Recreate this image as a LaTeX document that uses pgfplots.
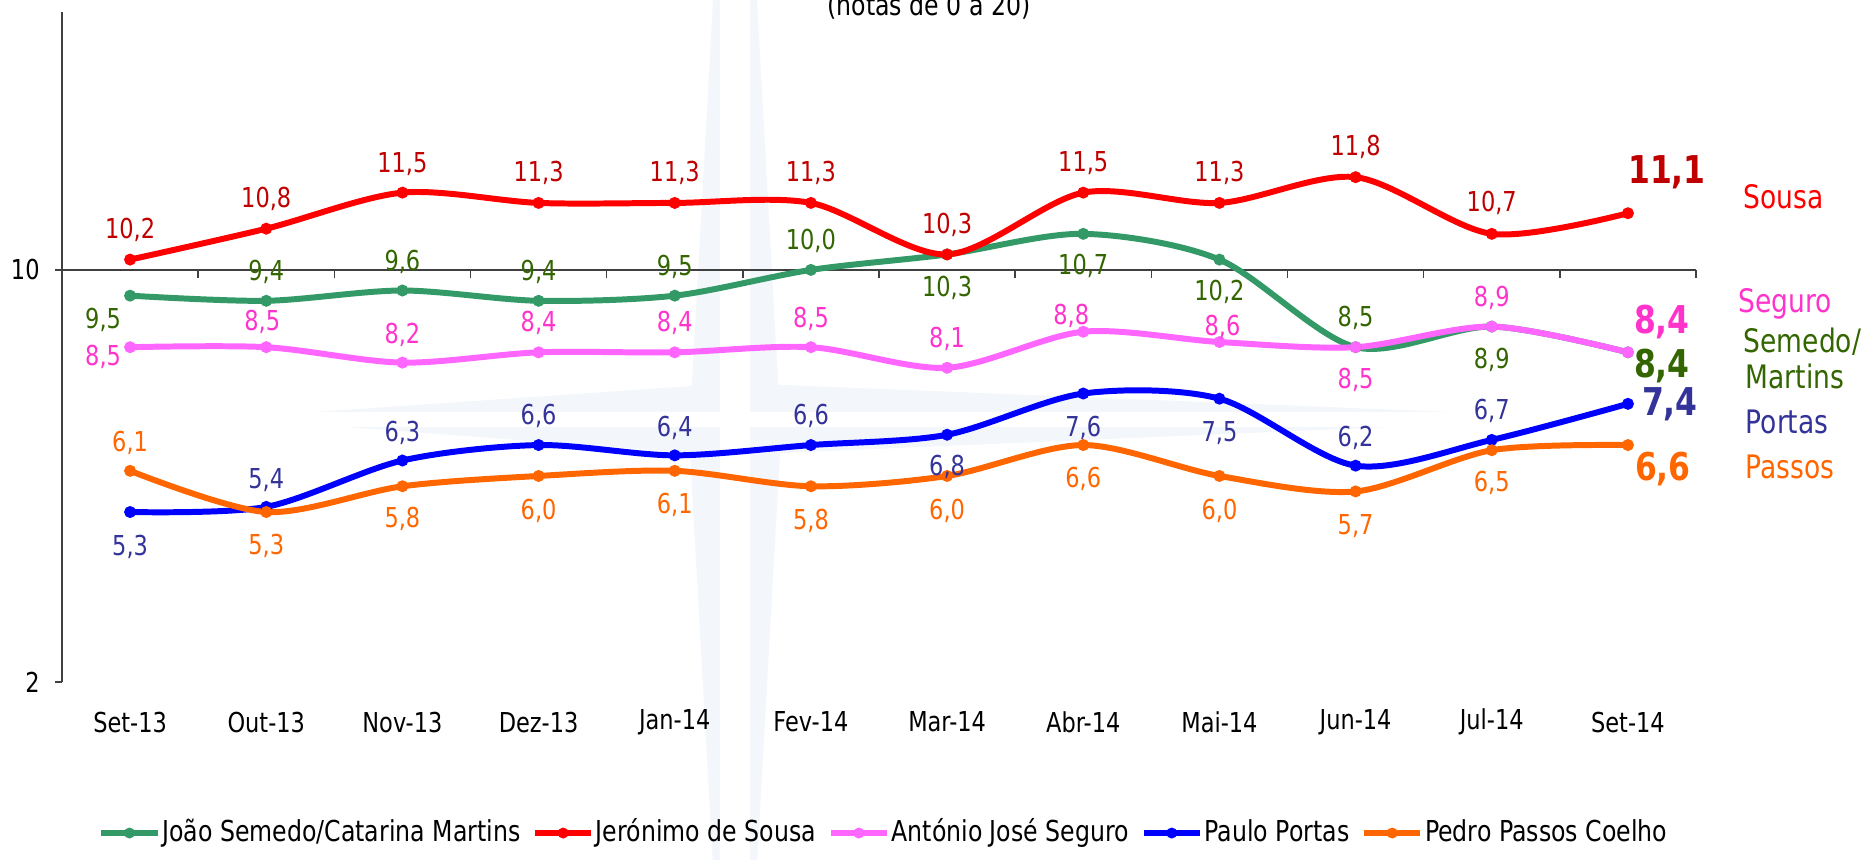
\documentclass[border=0pt]{standalone}
\usepackage{pgfplots}
\pgfplotsset{compat=1.18}
\usepackage{pgfplotstable}
\usepackage{fontspec}
\setmainfont{DejaVu Sans}[FakeStretch=0.82]

\definecolor{gline}{HTML}{339966}
\definecolor{gtext}{HTML}{336600}
\definecolor{rline}{HTML}{FF0000}
\definecolor{rtext}{HTML}{C00000}
\definecolor{pline}{HTML}{FF66FF}
\definecolor{ptext}{HTML}{FF33CC}
\definecolor{bline}{HTML}{0000FF}
\definecolor{bmark}{HTML}{3366FF}
\definecolor{btext}{HTML}{333399}
\definecolor{oline}{HTML}{FF6600}
\definecolor{omark}{HTML}{FF9900}
\definecolor{otext}{HTML}{FF6600}
\definecolor{wm}{HTML}{F3F6FB}
\definecolor{axcol}{HTML}{404040}

\newcommand{\labfont}{\fontsize{7.8}{9}\selectfont}
\newcommand{\bigfont}{\fontsize{10.9}{12}\selectfont\bfseries}

% x y dx dy lab   (dx,dy in px of the 1874-wide picture, dy up)
\pgfplotstableread{
x y dx dy lab
0 9.5 -27 -24 9,5
1 9.4 0 29 9,4
2 9.6 0 29 9,6
3 9.4 0 29 9,4
4 9.5 0 29 9,5
5 10.0 0 29 10,0
6 10.3 0 -33 10,3
7 10.7 0 -32 10,7
8 10.2 0 -32 10,2
9 8.5 0 29 8,5
10 8.9 0 -33 8,9
11 8.4 34 -14 8,4
}\tabG
\pgfplotstableread{
x y dx dy lab
0 10.2 0 30 10,2
1 10.8 0 30 10,8
2 11.5 0 29 11,5
3 11.3 0 30 11,3
4 11.3 0 30 11,3
5 11.3 0 30 11,3
6 10.3 0 30 10,3
7 11.5 0 30 11,5
8 11.3 0 30 11,3
9 11.8 0 30 11,8
10 10.7 0 31 10,7
11 11.1 39 41 11,1
}\tabR
\pgfplotstableread{
x y dx dy lab
0 8.5 -27 -10 8,5
1 8.5 -4 25 8,5
2 8.2 0 28 8,2
3 8.4 0 29 8,4
4 8.4 0 29 8,4
5 8.5 0 28 8,5
6 8.1 0 29 8,1
7 8.8 -12 16 8,8
8 8.6 3 15 8,6
9 8.5 0 -33 8,5
10 8.9 0 29 8,9
11 8.4 34 30 8,4
}\tabP
\pgfplotstableread{
x y dx dy lab
0 5.3 0 -35 5,3
1 5.4 0 27 5,4
2 6.3 0 28 6,3
3 6.6 0 29 6,6
4 6.4 0 27 6,4
5 6.6 0 29 6,6
6 6.8 0 -32 6,8
7 7.6 0 -34 7,6
8 7.5 0 -34 7,5
9 6.2 0 28 6,2
10 6.7 0 29 6,7
11 7.4 42 0 7,4
}\tabB
\pgfplotstableread{
x y dx dy lab
0 6.1 0 28 6,1
1 5.3 0 -34 5,3
2 5.8 0 -33 5,8
3 6.0 0 -35 6,0
4 6.1 0 -34 6,1
5 5.8 0 -35 5,8
6 6.0 0 -35 6,0
7 6.6 0 -34 6,6
8 6.0 0 -35 6,0
9 5.7 0 -35 5,7
10 6.5 0 -33 6,5
11 6.6 35 -24 6,6
}\tabO

\pgfplotsset{
  ser/.style 2 args={color=#1, line width=1.7pt, smooth, mark=*, mark size=0.8pt,
    mark options={draw=none, fill=#2}},
  lab/.style 2 args={draw=none, mark=none, forget plot, nodes near coords,
    point meta=explicit symbolic,
    visualization depends on={\thisrow{dx}\as\mydx},
    visualization depends on={\thisrow{dy}\as\mydy},
    every node near coord/.append style={anchor=center, inner sep=0pt,
      xshift=\mydx*0.01cm, yshift=\mydy*0.01cm, text=#1, font=#2}},
}

\begin{document}
\begin{tikzpicture}
\path[use as bounding box] (0,0) rectangle (18.74cm,-8.59cm);
% faint compass watermark
\fill[wm] (7.35cm,4.0cm) -- (7.80cm,-4.18cm) -- (16.01cm,-4.18cm) -- (7.80cm,-4.53cm)
  -- (7.35cm,-12.6cm) -- (6.90cm,-4.53cm) -- (2.27cm,-4.18cm) -- (6.90cm,-4.18cm) -- cycle;
\fill[wm] (7.35cm,-3.83cm) -- (16.01cm,-4.18cm) -- (7.35cm,-4.53cm) -- (2.27cm,-4.18cm) -- cycle;
\fill[white] (7.20cm,0.5cm) rectangle (7.50cm,-9cm);
\fill[white] (2cm,-4.12cm) rectangle (16.2cm,-4.27cm);

\begin{axis}[
  at={(0.62cm,-6.82cm)}, anchor=south west,
  scale only axis, width=16.34cm, height=6.697cm,
  xmin=-0.5, xmax=11.5, ymin=2, ymax=15,
  clip=false,
  axis y line*=left, axis x line*=bottom,
  x axis line style={draw=none},
  y axis line style={axcol, line width=0.45pt},
  xtick={0,...,11},
  xticklabels={Set-13,Out-13,Nov-13,Dez-13,Jan-14,Fev-14,Mar-14,Abr-14,Mai-14,Jun-14,Jul-14,Set-14},
  x tick style={draw=none},
  ytick={2,10},
  y tick style={axcol, line width=0.45pt},
  tick align=outside, major tick length=0.07cm,
  tick label style={font=\labfont, text=black},
  /pgf/number format/assume math mode=true,
  xticklabel style={anchor=center, yshift=-0.33cm},
  yticklabel style={xshift=-0.03cm},
  legend columns=5,
  legend cell align=left,
  legend style={at={(0.022,-0.2255)}, anchor=west, draw=none, fill=none,
    inner sep=0pt, font=\fontsize{8.2}{9}\selectfont,
    /tikz/every even column/.append style={column sep=0.1cm},
    nodes={inner sep=0.02cm}},
  legend image code/.code={\draw[mark repeat=2,mark phase=2,#1, line width=1.6pt, mark size=0.7pt]
    plot coordinates {(0cm,0cm) (0.28cm,0cm) (0.56cm,0cm)};},
]
\draw[axcol, line width=0.45pt] (axis cs:-0.5,10) -- (axis cs:11.5,10);
\pgfplotsinvokeforeach{0.5,1.5,2.5,3.5,4.5,5.5,6.5,7.5,8.5,9.5,10.5,11.5}{
  \draw[axcol, line width=0.45pt] (axis cs:#1,10) -- ([yshift=-0.077cm]axis cs:#1,10);
}

\addplot[ser={gline}{gline}] table[x=x,y=y] {\tabG};
\addlegendentry{João Semedo/Catarina Martins}
\addplot[ser={rline}{rline}] table[x=x,y=y] {\tabR};
\addlegendentry{Jerónimo de Sousa}
\addplot[ser={pline}{pline}] table[x=x,y=y] {\tabP};
\addlegendentry{António José Seguro}
\addplot[ser={bline}{bmark}] table[x=x,y=y] {\tabB};
\addlegendentry{Paulo Portas}
\addplot[ser={oline}{omark}] table[x=x,y=y] {\tabO};
\addlegendentry{Pedro Passos Coelho}

\addplot[lab={gtext}{\labfont}, restrict x to domain=0:10] table[x=x,y=y,meta=lab] {\tabG};
\addplot[lab={rtext}{\labfont}, restrict x to domain=0:10] table[x=x,y=y,meta=lab] {\tabR};
\addplot[lab={ptext}{\labfont}, restrict x to domain=0:10] table[x=x,y=y,meta=lab] {\tabP};
\addplot[lab={btext}{\labfont}, restrict x to domain=0:10] table[x=x,y=y,meta=lab] {\tabB};
\addplot[lab={otext}{\labfont}, restrict x to domain=0:10] table[x=x,y=y,meta=lab] {\tabO};

\addplot[lab={gtext}{\bigfont}, restrict x to domain=10.5:11.5] table[x=x,y=y,meta=lab] {\tabG};
\addplot[lab={rtext}{\bigfont}, restrict x to domain=10.5:11.5] table[x=x,y=y,meta=lab] {\tabR};
\addplot[lab={ptext}{\bigfont}, restrict x to domain=10.5:11.5] table[x=x,y=y,meta=lab] {\tabP};
\addplot[lab={btext}{\bigfont}, restrict x to domain=10.5:11.5] table[x=x,y=y,meta=lab] {\tabB};
\addplot[lab={otext}{\bigfont}, restrict x to domain=10.5:11.5] table[x=x,y=y,meta=lab] {\tabO};
\end{axis}

\node[anchor=base, inner sep=0pt, font=\fontsize{8.2}{9}\selectfont] at (9.29cm,-0.15cm) {(notas de 0 a 20)};

\begin{scope}[every node/.style={anchor=base west, inner sep=0pt, font=\fontsize{9.2}{10}\selectfont}]
\node[text=rline] at (17.43cm,-2.08cm) {Sousa};
\node[text=ptext] at (17.38cm,-3.12cm) {Seguro};
\node[text=gtext] at (17.43cm,-3.52cm) {Semedo/};
\node[text=gtext] at (17.45cm,-3.88cm) {Martins};
\node[text=btext] at (17.45cm,-4.33cm) {Portas};
\node[text=otext] at (17.45cm,-4.78cm) {Passos};
\end{scope}
\end{tikzpicture}
\end{document}
